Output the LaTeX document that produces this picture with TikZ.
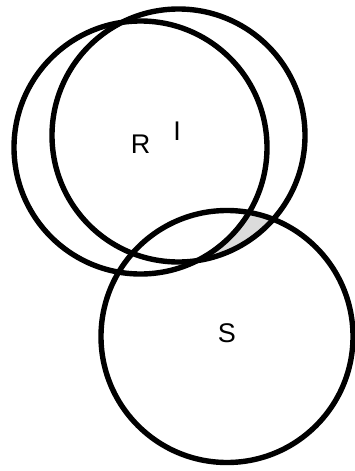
\documentclass[tikz,border=0pt]{standalone}
\usepackage{fontspec}
\setmainfont{Liberation Sans}
\begin{document}
\begin{tikzpicture}[x=1pt,y=-1pt,
  ring/.style={draw=black,line width=5.4pt},
  lab/.style={font=\fontsize{27}{30}\selectfont,inner sep=0pt}]
\useasboundingbox (0,0) rectangle (355,471);
\begin{scope}
  \clip (178.5,135.5) circle[radius=126.5];
  \clip (227,336.5) circle[radius=126];
  \fill[black!14] (0,0) rectangle (355,471);
  \fill[white] (140.5,147.5) circle[radius=126.5];
\end{scope}
\draw[ring] (140.5,147.5) circle[radius=126.5];
\draw[ring] (178.5,135.5) circle[radius=126.5];
\draw[ring] (227,336.5) circle[radius=126];
\node[lab] (R) at (140.5,144.5) {R};
\node[lab] (I) at (177,131) {I};
\node[lab] (S) at (227,333) {S};
\end{tikzpicture}
\end{document}
